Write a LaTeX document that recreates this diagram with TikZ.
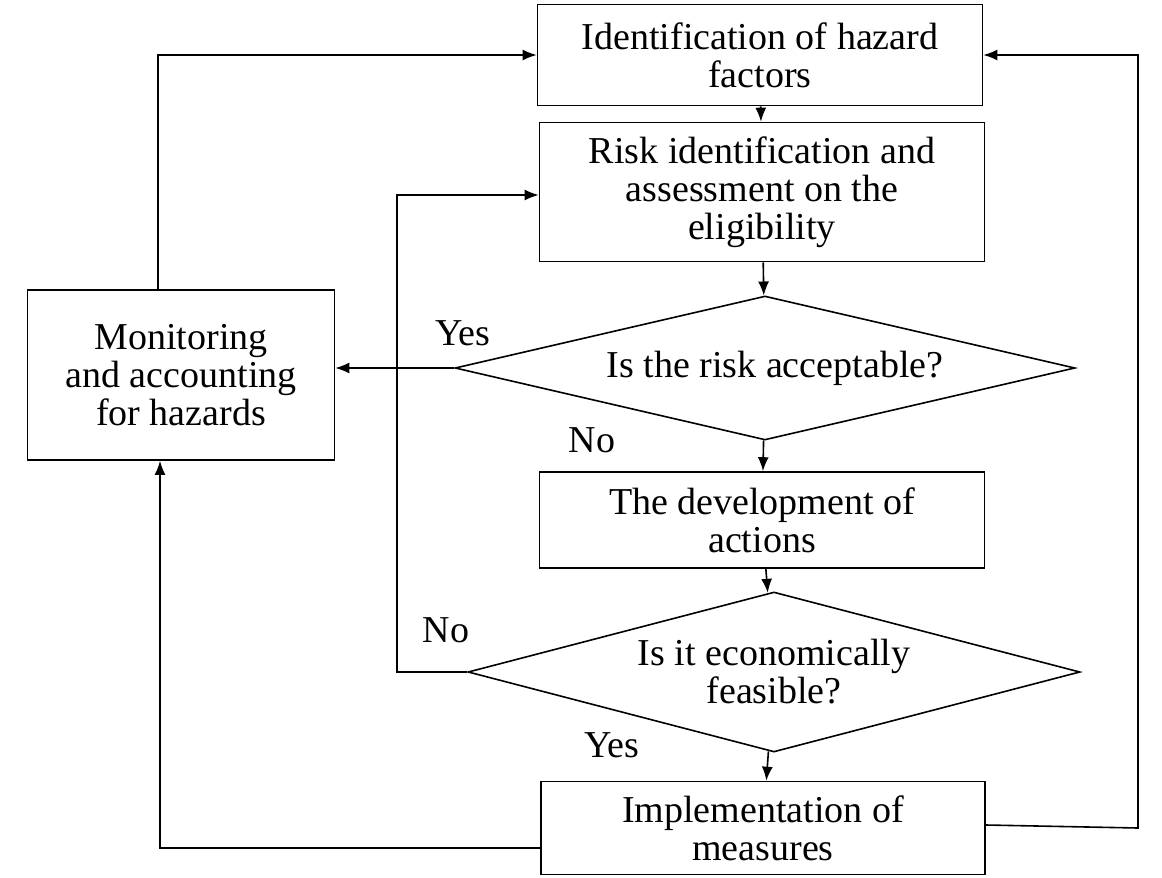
\documentclass[tikz,border=0pt]{standalone}
\usepackage{fontspec}
\setmainfont{Liberation Serif}
\usetikzlibrary{shapes.geometric,arrows.meta}
\begin{document}
\begin{tikzpicture}[x=1pt,y=-1pt,line width=1.6pt,>={Latex[length=14pt,width=11pt]},
  font=\fontsize{38}{38}\selectfont,
  box/.style={draw,rectangle,align=center,inner sep=0pt},
  dec/.style={draw,diamond,align=center,inner sep=0pt}]
\useasboundingbox (0,0) rectangle (1162,878);
% boxes
\node[box,minimum width=445,minimum height=101] (hazard) at (760,55) {Identification of hazard\\factors};
\node[box,minimum width=445,minimum height=139] (risk) at (762,192) {Risk identification and\\assessment on the\\eligibility};
\node[dec,minimum width=620,minimum height=144,aspect=4.3] (accept) at (765,368) {\hspace*{20pt}Is the risk acceptable?};
\node[box,minimum width=445,minimum height=96] (develop) at (762,520) {The development of\\actions};
\node[dec,minimum width=612,minimum height=160,aspect=3.8] (feasible) at (774,672) {Is it economically\\feasible?};
\node[box,minimum width=444,minimum height=93] (implement) at (763,828) {Implementation of\\measures};
\node[box,minimum width=307,minimum height=170] (monitor) at (181,375) {Monitoring\\and accounting\\for hazards};
% labels
\node (yes1) at (463,333) {Yes};
\node (no1) at (592,440) {No};
\node (no2) at (446,630) {No};
\node (yes2) at (612,745) {Yes};
% connectors
\draw[->] (hazard) -- (risk);
\draw[->] (risk) -- (accept);
\draw[->] (accept) -- (develop);
\draw[->] (develop) -- (feasible);
\draw[->] (feasible) -- (implement);
\draw[->] (accept.west) -- (monitor.east |- accept.west);
\draw[->] (monitor.north -| 158,0) |- (hazard.west);
\draw[->] (feasible.west) -- (397,672) |- (risk.west |- 0,195);
\draw[->] (implement.west |- 0,848) -| (monitor.south -| 160,0);
\draw[->] (implement.east |- 0,825) -- (1138,828) |- (hazard.east);
\end{tikzpicture}
\end{document}
